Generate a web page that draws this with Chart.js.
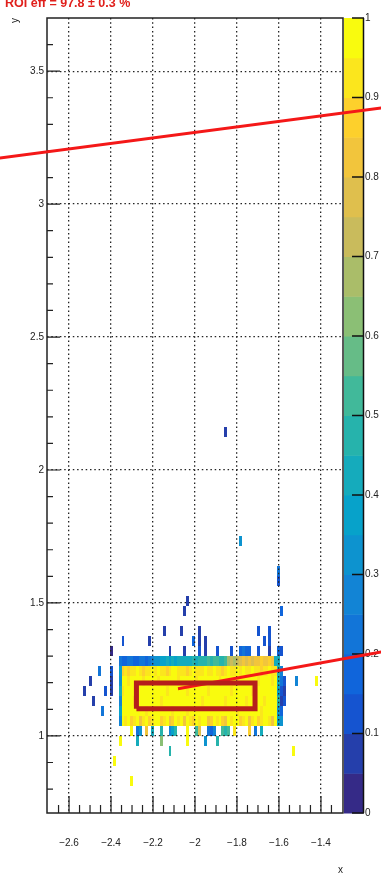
<!DOCTYPE html>
<html>
<head>
<meta charset="UTF-8">
<title>ROI eff</title>
<script src="https://cdn.jsdelivr.net/npm/chart.js@4.4.0/dist/chart.umd.min.js"></script>
<style>
body{margin:0;background:#fff;overflow:hidden;}
#wrap{position:relative;width:381px;height:876px;}
#roi{position:absolute;left:5px;top:-4px;font:bold 12.5px "Liberation Sans",Arial,sans-serif;color:#e0201c;white-space:nowrap;}
</style>
</head>
<body>
<div id="wrap">
	<canvas id="myChart"></canvas>
	<div id="roi">ROI eff = 97.8 ± 0.3 %</div>
</div>
<script>
	// histogram binning
	var xBinLow = -2.7, xBinWidth = 0.014
	var yBinLow = 0.7, yBinWidth = 0.0375

	// one character per bin: 0-9,A-J = palette level 0..19, '.' = empty
	var levelCodes = '0123456789ABCDEFGHIJ'

	// dense block: x bins 24..78, rows 15 (top) down to 9
	var blockFirstBin = 24
	var blockTopRow = 15
	var blockRows = [
		'43344334434' + '56677878788' + '88898999A9A' + 'A99ADEDEFGF' + 'GFGGHGGHG88',
		'7HIHIIJIHII' + 'JIJIIHIJJII' + 'IHIJIIIJIIJ' + 'IIHIJIIJIJI' + 'IJIIHIIJII9',
		'6JJIJJJJIJJ' + 'JJIJJJJJJIJ' + 'JJJJIJJJJJJ' + 'JIJJJJJIJJJ' + 'JJJIJJJJIJ8',
		'8IJJJJJJJJJ' + 'JJJJJIJJJJJ' + 'JIJJJJJJIJJ' + 'JJJJJIJJJJJ' + 'JIJJJJJJJJ7',
		'5JJJJIJJJJJ' + 'JJJIJJJJJJJ' + 'JJJJJJIJJJJ' + 'JJJIJJJJJJI' + 'JJJJJIJJJJ9',
		'7JJJJJJJJIJ' + 'JJJJJJJIJJJ' + 'JIJJJJJJJJJ' + 'JJJJJJJIJJJ' + 'JJJJIJJJJJ6',
		'5JIJHIJGIJH' + 'IJJHIJGHJIJ' + 'GJIHJIJJGHJ' + 'IJHGJIJJHIJ' + 'GIJHIJJIGJ7'
	]

	// scattered bins around the block
	var sparseRows   = [38, 27, 24, 23, 21, 20, 18, 17, 16, 14, 13, 12, 11, 10, 9, 8, 7, 6, 5, 3]
	var sparseBins   = [
		[60], [65], [78], [78], [47], [46, 79],
		[39, 45, 51, 71, 75],
		[25, 34, 49, 51, 53, 73, 75],
		[21, 41, 46, 51, 53, 57, 62, 65, 66, 67, 68, 71, 75, 78, 79],
		[17, 21, 79],
		[14, 21, 79, 80, 84, 91],
		[12, 19, 21, 79, 80],
		[15, 79, 80],
		[18, 79],
		[79],
		[28, 30, 31, 33, 35, 38, 41, 42, 43, 47, 50, 51, 54, 55, 56, 59, 60, 61, 63, 68, 70, 72],
		[24, 30, 38, 47, 53, 57],
		[41, 83],
		[22],
		[28]
	]
	var sparseLevels = [
		[1], [6], [4], [2], [1], [1, 3],
		[1, 1, 1, 2, 2],
		[2, 1, 3, 1, 1, 2, 2],
		[0, 1, 1, 2, 1, 2, 2, 3, 4, 3, 3, 2, 1, 3, 2],
		[4, 2, 5],
		[1, 1, 4, 2, 5, 19],
		[1, 2, 1, 2, 1],
		[1, 1, 2],
		[4, 3],
		[6],
		[19, 4, 6, 16, 8, 9, 5, 7, 9, 19, 10, 15, 4, 3, 5, 10, 9, 10, 18, 17, 4, 8],
		[19, 8, 12, 19, 6, 9],
		[9, 19],
		[19],
		[19]
	]

	// ROI box and the two red lines
	var roiX = [-2.279, -1.714, -1.714, -2.279, -2.279]
	var roiY = [1.102, 1.102, 1.199, 1.199, 1.102]
	var upperLineX = [-3.0, -1.0]
	var upperLineY = [3.166, 3.373]
	var lowerLineX = [-2.081, -1.0]
	var lowerLineY = [1.177, 1.332]

	// axes
	var xMajorTicks = [-2.6, -2.4, -2.2, -2, -1.8, -1.6, -1.4]
	var xMinorTicks = [-2.65, -2.55, -2.5, -2.45, -2.35, -2.3, -2.25, -2.15, -2.1, -2.05, -1.95, -1.9, -1.85, -1.75, -1.7, -1.65, -1.55, -1.5, -1.45, -1.35]
	var yMajorTicks = [1, 1.5, 2, 2.5, 3, 3.5]
	var yMinorTicks = [0.8, 0.9, 1.1, 1.2, 1.3, 1.4, 1.6, 1.7, 1.8, 1.9, 2.1, 2.2, 2.3, 2.4, 2.6, 2.7, 2.8, 2.9, 3.1, 3.2, 3.3, 3.4, 3.6]
	var zTicks = [0, 0.1, 0.2, 0.3, 0.4, 0.5, 0.6, 0.7, 0.8, 0.9, 1]
	var zLevels = 20

	// ROOT kBird palette
	var birdStops = [0, 0.125, 0.25, 0.375, 0.5, 0.625, 0.75, 0.875, 1]
	var birdR = [0.2082, 0.0592, 0.0780, 0.0232, 0.1802, 0.5301, 0.8186, 0.9956, 0.9764]
	var birdG = [0.1664, 0.3599, 0.5041, 0.6419, 0.7178, 0.7492, 0.7328, 0.7862, 0.9832]
	var birdB = [0.5293, 0.8684, 0.8385, 0.7914, 0.6425, 0.4662, 0.3499, 0.1968, 0.0539]

	var birdColor = function(t) {
		var k = 0
		while (k < birdStops.length - 2 && t > birdStops[k + 1]) k++
		var f = (t - birdStops[k]) / (birdStops[k + 1] - birdStops[k])
		var mix = function(a) { return Math.round(255 * (a[k] + (a[k + 1] - a[k]) * f)) }
		return 'rgb(' + mix(birdR) + ',' + mix(birdG) + ',' + mix(birdB) + ')'
	}
	var levelColor = function(level) {
		return birdColor(level / (zLevels - 1))
	}

	var fillCell = function(c, xs, ys, bin, row, level) {
		var x0 = Math.round(xs.getPixelForValue(xBinLow + bin * xBinWidth))
		var x1 = Math.round(xs.getPixelForValue(xBinLow + (bin + 1) * xBinWidth))
		var y0 = Math.round(ys.getPixelForValue(yBinLow + (row + 1) * yBinWidth))
		var y1 = Math.round(ys.getPixelForValue(yBinLow + row * yBinWidth))
		c.fillStyle = levelColor(level)
		c.fillRect(x0, y0, x1 - x0, y1 - y0)
	}

	var histPlugin = {
		id: 'hist',
		beforeDraw: function(chart) {
			var c = chart.ctx, xs = chart.scales.x, ys = chart.scales.y
			c.save()
			blockRows.forEach(function(str, r) {
				for (var i = 0; i < str.length; i++) {
					var lv = levelCodes.indexOf(str[i])
					if (lv >= 0) fillCell(c, xs, ys, blockFirstBin + i, blockTopRow - r, lv)
				}
			})
			sparseRows.forEach(function(row, r) {
				sparseBins[r].forEach(function(bin, k) {
					fillCell(c, xs, ys, bin, row, sparseLevels[r][k])
				})
			})
			c.restore()
		},
		beforeDatasetsDraw: function(chart) {
			var c = chart.ctx, a = chart.chartArea
			var xs = chart.scales.x, ys = chart.scales.y, zs = chart.scales.z
			c.save()
			// palette
			for (var k = 0; k < zLevels; k++) {
				var top = zs.getPixelForValue((k + 1) / zLevels)
				var bot = zs.getPixelForValue(k / zLevels)
				c.fillStyle = levelColor(k)
				c.fillRect(a.right + 1, top, 19, bot - top + 0.5)
			}
			c.strokeStyle = '#111'
			c.lineWidth = 1.5
			c.beginPath()
			c.moveTo(a.right + 20.5, a.top)
			c.lineTo(a.right + 20.5, a.bottom)
			zTicks.forEach(function(v) {
				var p = zs.getPixelForValue(v)
				c.moveTo(a.right + 9, p)
				c.lineTo(a.right + 21, p)
			})
			c.stroke()

			// frame
			c.strokeStyle = '#222'
			c.lineWidth = 1.5
			c.strokeRect(a.left, a.top, a.right - a.left, a.bottom - a.top)

			// inside ticks
			c.lineWidth = 1.2
			c.beginPath()
			xMajorTicks.forEach(function(v) {
				var p = xs.getPixelForValue(v)
				c.moveTo(p, a.bottom); c.lineTo(p, a.bottom - 17)
			})
			xMinorTicks.forEach(function(v) {
				var p = xs.getPixelForValue(v)
				c.moveTo(p, a.bottom); c.lineTo(p, a.bottom - 8)
			})
			yMajorTicks.forEach(function(v) {
				var p = ys.getPixelForValue(v)
				c.moveTo(a.left, p); c.lineTo(a.left + 13, p)
			})
			yMinorTicks.forEach(function(v) {
				var p = ys.getPixelForValue(v)
				c.moveTo(a.left, p); c.lineTo(a.left + 6, p)
			})
			c.stroke()
			c.restore()
		}
	}

	var toPoints = function(xs, ys) {
		return xs.map(function(x, i) { return {x: x, y: ys[i]} })
	}
	var fmt = function(v) { return String(v).replace('-', '\u2212') }
	var tickFont = {family: '"Liberation Sans", Arial, sans-serif', size: 10}

	Chart.defaults.font.family = '"Liberation Sans", Arial, sans-serif'

	var ctx = document.getElementById('myChart').getContext('2d')
	var chart = new Chart(ctx, {
		type: 'scatter',
		data: {
			datasets: [{
				data: toPoints(roiX, roiY),
				showLine: true,
				borderColor: '#b51e1c',
				borderWidth: 5,
				borderJoinStyle: 'miter',
				pointRadius: 0,
				clip: false
			}, {
				data: toPoints(upperLineX, upperLineY),
				showLine: true,
				borderColor: '#f41818',
				borderWidth: 3,
				pointRadius: 0,
				clip: false
			}, {
				data: toPoints(lowerLineX, lowerLineY),
				showLine: true,
				borderColor: '#f41818',
				borderWidth: 3,
				pointRadius: 0,
				clip: false
			}]
		},
		options: {
			responsive: true,
			maintainAspectRatio: false,
			animation: false,
			layout: {padding: {top: 18, left: 0, right: 0, bottom: 0}},
			plugins: {
				legend: {display: false},
				tooltip: {enabled: false}
			},
			scales: {
				x: {
					type: 'linear', position: 'bottom', min: -2.705, max: -1.295,
					afterBuildTicks: function(s) { s.ticks = xMajorTicks.map(function(v) { return {value: v} }) },
					afterFit: function(s) { s.height = 63 },
					grid: {color: '#222', lineWidth: 1.3, drawTicks: false},
					border: {display: false, dash: [1.5, 2.8]},
					ticks: {padding: 24, color: '#222', font: tickFont, callback: fmt, maxRotation: 0, autoSkip: false},
					title: {display: true, text: 'x', align: 'end', color: '#222', font: tickFont, padding: {top: 0, bottom: 0}}
				},
				y: {
					type: 'linear', position: 'left', min: 0.71, max: 3.70,
					afterBuildTicks: function(s) { s.ticks = yMajorTicks.map(function(v) { return {value: v} }) },
					afterFit: function(s) { s.width = 47 },
					grid: {color: '#222', lineWidth: 1.3, drawTicks: false},
					border: {display: false, dash: [1.5, 2.8]},
					ticks: {padding: 3, color: '#222', font: tickFont, callback: fmt, autoSkip: false},
					title: {display: true, text: 'y', align: 'end', color: '#222', font: tickFont, padding: {top: 9, bottom: 0}}
				},
				z: {
					type: 'linear', position: 'right', min: 0, max: 1,
					afterBuildTicks: function(s) { s.ticks = zTicks.map(function(v) { return {value: v} }) },
					afterFit: function(s) { s.width = 38 },
					// label offset comes from the (hidden) tick length, so the top padding stays small
					grid: {display: false, drawTicks: true, tickLength: 22},
					border: {display: false},
					ticks: {padding: 0, color: '#222', font: tickFont, callback: fmt, autoSkip: false}
				}
			}
		},
		plugins: [histPlugin]
	})
</script>
</body>
</html>
